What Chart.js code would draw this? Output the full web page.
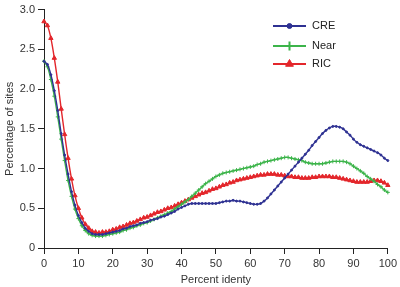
<!DOCTYPE html>
<html lang="en">
<head>
    <meta charset="utf-8" />
    <title>Percent identity</title>
    <style>
        html, body { margin: 0; padding: 0; background: #fff; }
        #wrap { width: 400px; height: 287px; }
    </style>
</head>
<body>
    <div id="wrap"><canvas id="myChart" width="400" height="287"></canvas></div>

    <script src="https://cdn.jsdelivr.net/npm/chart.js@4.4.0/dist/chart.umd.min.js"></script>
    <script>
        // x values: percent identity 0..100, one point per unit
        var identity = [];
        for (var i = 0; i <= 100; i++) identity.push(i);

        var creValues = [
            2.35, 2.31, 2.18, 1.98, 1.73, 1.44, 1.17, 0.93, 0.71, 0.54,
            0.41, 0.32, 0.25, 0.21, 0.18, 0.17, 0.17, 0.17, 0.18, 0.19,
            0.20, 0.21, 0.22, 0.24, 0.25, 0.27, 0.28, 0.29, 0.31, 0.32,
            0.33, 0.35, 0.36, 0.37, 0.39, 0.40, 0.42, 0.44, 0.46, 0.49,
            0.51, 0.53, 0.55, 0.56, 0.56, 0.56, 0.56, 0.56, 0.56, 0.56,
            0.56, 0.57, 0.58, 0.59, 0.59, 0.60, 0.59, 0.59, 0.58, 0.57,
            0.56, 0.55, 0.55, 0.56, 0.59, 0.63, 0.68, 0.73, 0.78, 0.83,
            0.88, 0.93, 0.98, 1.03, 1.08, 1.13, 1.18, 1.23, 1.29, 1.34,
            1.39, 1.44, 1.48, 1.51, 1.53, 1.53, 1.52, 1.50, 1.46, 1.42,
            1.37, 1.33, 1.30, 1.28, 1.26, 1.24, 1.22, 1.20, 1.17, 1.13,
            1.10
        ];

        var nearValues = [
            2.35, 2.28, 2.12, 1.91, 1.65, 1.37, 1.10, 0.85, 0.65, 0.49,
            0.37, 0.28, 0.22, 0.18, 0.16, 0.15, 0.15, 0.15, 0.16, 0.17,
            0.18, 0.19, 0.20, 0.22, 0.23, 0.25, 0.26, 0.28, 0.29, 0.31,
            0.32, 0.34, 0.36, 0.38, 0.40, 0.42, 0.44, 0.46, 0.49, 0.52,
            0.55, 0.58, 0.61, 0.65, 0.69, 0.73, 0.77, 0.81, 0.84, 0.87,
            0.90, 0.92, 0.94, 0.95, 0.96, 0.97, 0.98, 0.99, 1.00, 1.01,
            1.02, 1.03, 1.05, 1.06, 1.08, 1.09, 1.10, 1.11, 1.12, 1.13,
            1.14, 1.14, 1.13, 1.12, 1.11, 1.10, 1.08, 1.07, 1.06, 1.06,
            1.06, 1.06, 1.07, 1.08, 1.09, 1.09, 1.09, 1.09, 1.08, 1.06,
            1.03, 1.00, 0.97, 0.94, 0.90, 0.87, 0.84, 0.80, 0.77, 0.73,
            0.70
        ];

        var ricValues = [
            2.85, 2.80, 2.64, 2.39, 2.09, 1.75, 1.43, 1.13, 0.87, 0.66,
            0.50, 0.38, 0.30, 0.25, 0.21, 0.20, 0.19, 0.20, 0.20, 0.21,
            0.23, 0.24, 0.26, 0.27, 0.29, 0.31, 0.32, 0.34, 0.36, 0.38,
            0.39, 0.41, 0.43, 0.45, 0.46, 0.48, 0.50, 0.51, 0.53, 0.55,
            0.57, 0.59, 0.61, 0.63, 0.65, 0.67, 0.69, 0.70, 0.72, 0.74,
            0.75, 0.77, 0.79, 0.80, 0.82, 0.83, 0.85, 0.86, 0.87, 0.88,
            0.89, 0.90, 0.91, 0.92, 0.92, 0.93, 0.93, 0.93, 0.92, 0.92,
            0.91, 0.90, 0.90, 0.89, 0.89, 0.88, 0.88, 0.88, 0.89, 0.89,
            0.90, 0.90, 0.90, 0.90, 0.89, 0.89, 0.88, 0.87, 0.86, 0.85,
            0.84, 0.83, 0.83, 0.83, 0.83, 0.84, 0.85, 0.85, 0.84, 0.82,
            0.79
        ];

        var seriesNames = ["CRE", "Near", "RIC"];
        var seriesColors = ["#2e3192", "#3cb44a", "#e3262b"];
        var yTicks = [0, 0.5, 1.0, 1.5, 2.0, 2.5, 3.0];

        var fontFamily = '"Liberation Sans", Arial, Helvetica, sans-serif';

        function toPoints(values) {
            return values.map(function (v, idx) { return { x: identity[idx], y: v }; });
        }

        function makeSet(k, values, style, radius) {
            return {
                label: seriesNames[k],
                data: toPoints(values),
                borderColor: seriesColors[k],
                backgroundColor: seriesColors[k],
                pointStyle: style,
                pointRadius: radius,
                pointBorderWidth: 1,
                pointBorderColor: seriesColors[k],
                pointBackgroundColor: seriesColors[k],
                borderWidth: 1.4,
                tension: 0.3,
                clip: false
            };
        }

        // legend drawn as line + marker, like the original figure
        var lineLegend = {
            id: 'lineLegend',
            afterDraw: function (chart) {
                var c = chart.ctx;
                var rows = [26, 46, 64];
                c.save();
                chart.data.datasets.forEach(function (ds, k) {
                    var y = rows[k];
                    c.strokeStyle = ds.borderColor;
                    c.fillStyle = ds.borderColor;
                    c.lineWidth = 2;
                    c.beginPath();
                    c.moveTo(273, y);
                    c.lineTo(306, y);
                    c.stroke();
                    c.lineWidth = ds.pointStyle === 'cross' ? 2 : 1;
                    var r = ds.pointStyle === 'circle' ? 2.5 : 4.5;
                    if (Chart.helpers && Chart.helpers.drawPoint) {
                        Chart.helpers.drawPoint(c, { pointStyle: ds.pointStyle, radius: r, borderWidth: c.lineWidth }, 289.5, y);
                    }
                    c.fillStyle = '#222';
                    c.font = '11px ' + fontFamily;
                    c.textBaseline = 'middle';
                    c.textAlign = 'left';
                    c.fillText(ds.label, 312, y);
                });
                c.restore();
            }
        };

        var ctx = document.getElementById("myChart");
        var myChart = new Chart(ctx, {
            type: 'line',
            data: {
                datasets: [
                    makeSet(0, creValues, 'circle', 1),
                    makeSet(1, nearValues, 'cross', 2),
                    makeSet(2, ricValues, 'triangle', 2.5)
                ]
            },
            options: {
                responsive: false,
                animation: false,
                layout: { padding: { top: 7, right: 10, left: 3, bottom: 0 } },
                plugins: {
                    legend: { display: false },
                    tooltip: { enabled: false }
                },
                scales: {
                    x: {
                        type: 'linear',
                        min: 0,
                        max: 100,
                        ticks: {
                            stepSize: 10,
                            color: '#333',
                            padding: 3,
                            maxRotation: 0,
                            font: { family: fontFamily, size: 11 }
                        },
                        grid: { drawOnChartArea: false, drawTicks: true, tickLength: 6, color: '#222' },
                        border: { color: '#222', width: 1 },
                        title: {
                            display: true,
                            text: 'Percent identy',
                            color: '#333',
                            padding: { top: 2, bottom: 0 },
                            font: { family: fontFamily, size: 11 }
                        },
                        afterFit: function (scale) { scale.height = 39; }
                    },
                    y: {
                        min: 0,
                        max: 3,
                        afterBuildTicks: function (scale) {
                            scale.ticks = yTicks.map(function (v) { return { value: v }; });
                        },
                        ticks: {
                            color: '#333',
                            padding: 3,
                            font: { family: fontFamily, size: 11 },
                            callback: function (v) { return v === 0 ? '0' : v.toFixed(1); }
                        },
                        grid: { drawOnChartArea: false, drawTicks: true, tickLength: 6, color: '#222' },
                        border: { color: '#222', width: 1 },
                        title: {
                            display: true,
                            text: 'Percentage of sites',
                            color: '#333',
                            padding: { top: 0, bottom: 2 },
                            font: { family: fontFamily, size: 11 }
                        },
                        afterFit: function (scale) { scale.width = 41; }
                    }
                }
            },
            plugins: [lineLegend]
        });
    </script>
</body>
</html>
